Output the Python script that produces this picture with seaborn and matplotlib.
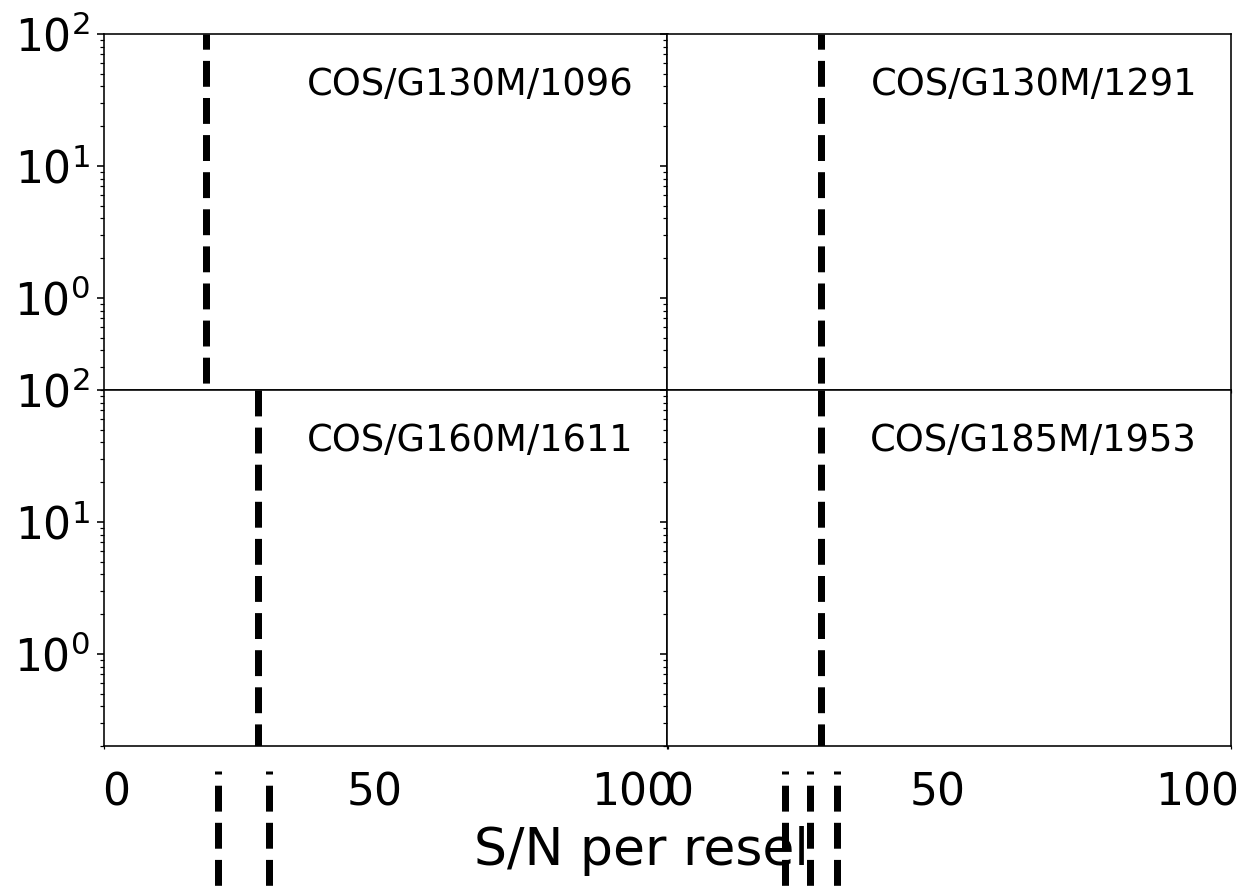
import matplotlib
matplotlib.use("Agg")
import matplotlib.pyplot as plt
import matplotlib.transforms as mtransforms
from matplotlib.ticker import FixedLocator
import pandas as pd
import seaborn as sns

# ---------------- data ----------------
panel_labels = ["COS/G130M/1096", "COS/G130M/1291", "COS/G160M/1611", "COS/G185M/1953"]
panel_sn = [17.4, 27.3, 27.5, 27.3]          # dashed S/N marker in each panel
below_sn_left = [19.7, 29.6]                 # dashed markers below the left column
below_sn_right = [20.5, 25.3, 30.4]          # dashed markers below the right column
xtick_values = [0, 50, 100]
xtick_labels = ["0", "50", "100"]
x_limits = (-2.3, 106.6)
y_limits = (0.2, 100)
xlabel_text = "S/N per resel"

# ---------------- style ----------------
sns.set_style("ticks", rc={
    "axes.edgecolor": "black",
    "xtick.color": "black",
    "ytick.color": "black",
    "text.color": "black",
    "axes.labelcolor": "black",
    "axes.linewidth": 0.8,
    "xtick.major.width": 0.8,
    "ytick.major.width": 0.8,
    "xtick.minor.width": 0.8,
    "ytick.minor.width": 0.8,
    "ytick.major.size": 3.5,
    "ytick.minor.size": 2.0,
})
plt.rcParams["font.family"] = ["DejaVu Sans"]

W, H, DPI = 1242, 887, 144
fig = plt.figure(figsize=(W / DPI, H / DPI), dpi=DPI)
gs = fig.add_gridspec(2, 2, left=104 / W, right=1231 / W,
                      top=1 - 34 / H, bottom=1 - 746 / H,
                      hspace=0, wspace=0)
axes = gs.subplots(sharex=True, sharey=True)

LW = 3.5
dash_seq = (3.7, 1.6)
offsets = [1.53, 1.53, 0.0, 0.0]

for i, ax in enumerate(axes.flat):
    ax.set_yscale("log")
    df = pd.DataFrame({"sn": [panel_sn[i], panel_sn[i]],
                       "y": [y_limits[1], y_limits[0]]})
    sns.lineplot(data=df, x="sn", y="y", ax=ax, estimator=None, sort=False,
                 color="black", lw=LW, linestyle=(offsets[i], dash_seq))
    ax.set_xlabel("")
    ax.set_ylabel("")
    ax.text(0.94, 0.909, panel_labels[i], transform=ax.transAxes,
            ha="right", va="top", fontsize=18.4)

for ax in axes.flat:
    ax.set_xlim(*x_limits)
    ax.set_ylim(*y_limits)
    ax.set_xticks(xtick_values)
    ax.set_xticklabels(xtick_labels)
    ax.xaxis.set_minor_locator(FixedLocator(list(x_limits)))
    ax.tick_params(axis="x", which="major", length=0, pad=12.5, labelsize=22)
    ax.tick_params(axis="x", which="minor", length=1.5)
    ax.tick_params(axis="y", which="major", labelsize=22)

# dashed markers extending below the bottom row
for ax, vals in [(axes[1, 0], below_sn_left), (axes[1, 1], below_sn_right)]:
    trans = mtransforms.blended_transform_factory(ax.transData, ax.transAxes)
    for v in vals:
        ax.plot([v, v], [-0.0702, -0.45], transform=trans, clip_on=False,
                color="black", lw=LW, linestyle=(3.27, dash_seq))

fig.text(641 / W, 1 - 865 / H, xlabel_text, ha="center", va="baseline",
         fontsize=26, zorder=-1)

fig.savefig("out.png", dpi=DPI)
